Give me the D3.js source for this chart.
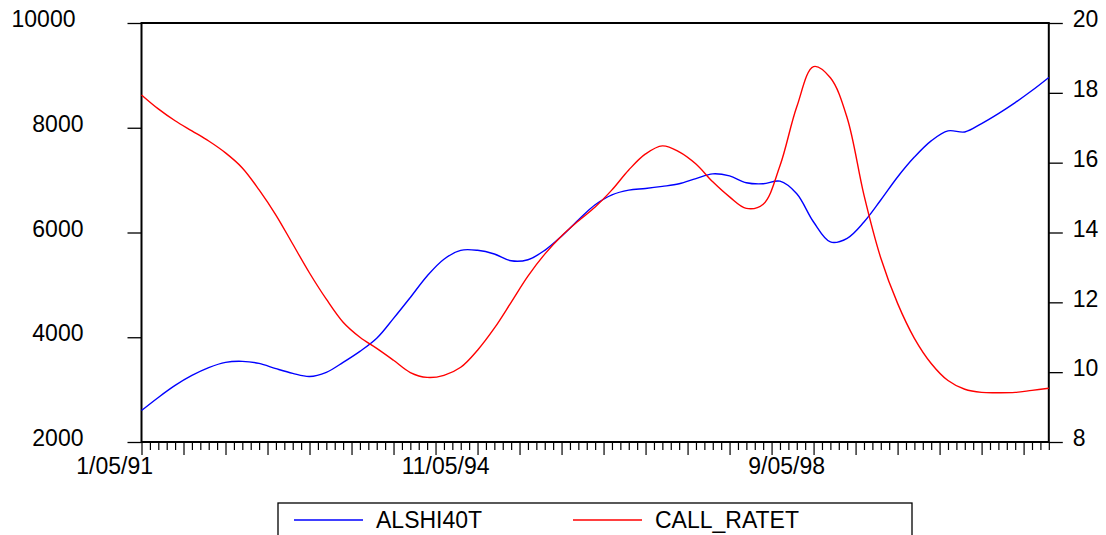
<!DOCTYPE html>
<html>
<head>
<meta charset="utf-8">
<script src="https://cdn.jsdelivr.net/npm/d3@7"></script>
<style>
  html, body { margin: 0; padding: 0; background: #fff; }
  svg { display: block; }
  text { font-family: "Liberation Sans", Arial, sans-serif; font-size: 23px; fill: #000; }
</style>
</head>
<body>
<svg id="chart" width="1106" height="535"></svg>
<script>
// ---- data (observation index, every 2nd tick) ----
const obsIndex = d3.range(0, 109, 2);
const alshi40t = [
  2600, 2850, 3080, 3270, 3420, 3520, 3540, 3500, 3400, 3310,
  3250, 3330, 3520, 3730, 3980, 4360, 4760, 5170, 5490, 5660,
  5660, 5590, 5460, 5480, 5660, 5930, 6240, 6530, 6720, 6810,
  6840, 6880, 6930, 7030, 7120, 7080, 6950, 6930, 6980, 6740,
  6200, 5820, 5890, 6200, 6620, 7060, 7440, 7750, 7940, 7920,
  8080, 8270, 8480, 8710, 8960
];
const callRatet = [
  17.94, 17.54, 17.20, 16.91, 16.62, 16.28, 15.85, 15.22, 14.50, 13.67,
  12.84, 12.09, 11.43, 11.00, 10.68, 10.34, 9.99, 9.85, 9.91, 10.14,
  10.63, 11.26, 12.00, 12.75, 13.38, 13.90, 14.33, 14.73, 15.22, 15.79,
  16.25, 16.48, 16.31, 15.96, 15.45, 15.02, 14.69, 14.81, 15.91, 17.60,
  18.75, 18.43, 17.28, 15.07, 13.27, 11.97, 10.97, 10.25, 9.76, 9.51,
  9.42, 9.41, 9.42, 9.48, 9.54
];
const leftTicks = [2000, 4000, 6000, 8000, 10000];
const rightTicks = [8, 10, 12, 14, 16, 18, 20];
const dateLabels = ["1/05/91", "11/05/94", "9/05/98"];
const dateLabelPos = [-3.2, 36.2, 76.8];
const seriesNames = ["ALSHI40T", "CALL_RATET"];
const seriesColors = ["#0000ff", "#ff0000"];

// ---- layout ----
const L = 141.5, R = 1048.8, T = 23, B = 442;
const FONT = "'Liberation Sans', Arial, sans-serif";
const svg = d3.select("#chart");

const x = d3.scaleLinear().domain([0, 108]).range([L, R]);
const yL = d3.scaleLinear().domain([2000, 10000]).range([B, T]);
const yR = d3.scaleLinear().domain([8, 20]).range([B, T]);

// left axis
const gL = svg.append("g").attr("transform", `translate(${L},0)`)
  .call(d3.axisLeft(yL).tickValues(leftTicks).tickSize(14).tickPadding(44).tickFormat(d3.format("d")));
gL.select(".domain").remove();
gL.selectAll(".tick line").attr("stroke", "#000").attr("stroke-width", 1.3);
gL.selectAll(".tick text").attr("dy", "0.16em")
  .attr("dx", d => String(d).length > 4 ? -8 : 0)
  .style("font-size", "23px").style("font-family", FONT);

// right axis
const gR = svg.append("g").attr("transform", `translate(${R},0)`)
  .call(d3.axisRight(yR).tickValues(rightTicks).tickSize(14).tickPadding(10).tickFormat(d3.format("d")));
gR.select(".domain").remove();
gR.selectAll(".tick line").attr("stroke", "#000").attr("stroke-width", 1.3);
gR.selectAll(".tick text").attr("dy", "0.16em")
  .style("font-size", "23px").style("font-family", FONT);

// bottom axis: minor + major ticks
const allTicks = d3.range(0, 109);
const gMinor = svg.append("g").attr("transform", `translate(0,${B})`)
  .call(d3.axisBottom(x).tickValues(allTicks.filter(d => d % 5 !== 0)).tickSize(8).tickFormat(""));
gMinor.select(".domain").remove();
gMinor.selectAll(".tick line").attr("stroke", "#000").attr("stroke-width", 1.2);
const gMajor = svg.append("g").attr("transform", `translate(0,${B})`)
  .call(d3.axisBottom(x).tickValues(allTicks.filter(d => d % 5 === 0)).tickSize(13).tickFormat(""));
gMajor.select(".domain").remove();
gMajor.selectAll(".tick line").attr("stroke", "#000").attr("stroke-width", 1.2);

// date labels
svg.append("g").selectAll("text").data(dateLabels).join("text")
  .attr("x", (d, i) => x(dateLabelPos[i]))
  .attr("y", 474)
  .attr("text-anchor", "middle")
  .text(d => d);

// frame
svg.append("rect")
  .attr("x", L).attr("y", T).attr("width", R - L).attr("height", B - T)
  .attr("fill", "none").attr("stroke", "#000").attr("stroke-width", 2);

// lines
const lineL = d3.line().x((d, i) => x(obsIndex[i])).y(d => yL(d)).curve(d3.curveCatmullRom.alpha(0.5));
const lineR = d3.line().x((d, i) => x(obsIndex[i])).y(d => yR(d)).curve(d3.curveCatmullRom.alpha(0.5));

svg.append("path").datum(alshi40t).attr("d", lineL)
  .attr("fill", "none").attr("stroke", seriesColors[0]).attr("stroke-width", 1.4);
svg.append("path").datum(callRatet).attr("d", lineR)
  .attr("fill", "none").attr("stroke", seriesColors[1]).attr("stroke-width", 1.4);

// legend
const lg = svg.append("g");
lg.append("rect").attr("x", 278).attr("y", 503).attr("width", 634).attr("height", 60)
  .attr("fill", "#fff").attr("stroke", "#000").attr("stroke-width", 1.3);
const legX = [294, 573];
seriesNames.forEach((name, i) => {
  lg.append("line").attr("x1", legX[i]).attr("x2", legX[i] + 69)
    .attr("y1", 520).attr("y2", 520)
    .attr("stroke", seriesColors[i]).attr("stroke-width", 1.4);
  lg.append("text").attr("x", legX[i] + 82).attr("y", 528).text(name);
});
</script>
</body>
</html>
